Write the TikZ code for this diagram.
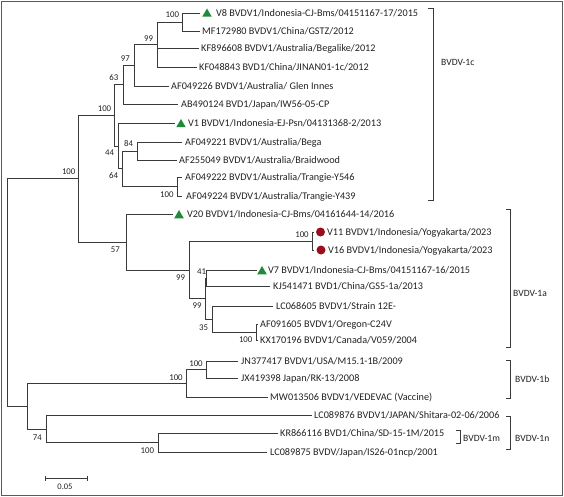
\documentclass[tikz,border=0pt]{standalone}
\usepackage{fontspec}
\setmainfont{Carlito}
\usetikzlibrary{shapes.geometric}
\definecolor{treeline}{HTML}{3A3A3A}
\definecolor{txt}{HTML}{222222}
\definecolor{tgreen}{HTML}{1E8A3A}
\definecolor{dred}{HTML}{9A0E1C}
\definecolor{framec}{HTML}{5A5A5A}
\begin{document}
\begin{tikzpicture}[x=1pt,y=-1pt,
  branch/.style={draw=treeline, line width=0.95pt},
  tip/.style={anchor=base west, inner sep=0pt, yshift=-3.5pt, text=txt, font=\fontsize{10.2}{12}\selectfont},
  bs/.style={anchor=center, inner sep=0pt, text=txt, font=\fontsize{8.8}{10}\selectfont},
  grp/.style={anchor=base west, inner sep=0pt, yshift=-3.5pt, text=txt, font=\fontsize{9.6}{12}\selectfont},
  tri/.style={regular polygon, regular polygon sides=3, fill=tgreen, minimum size=11pt, inner sep=0pt},
  dot/.style={circle, fill=dred, minimum size=9pt, inner sep=0pt},
  brk/.style={draw=treeline, line width=0.95pt}]
\useasboundingbox (0,0) rectangle (564,497);
\draw[framec, line width=1.2pt] (1.5,1.5) rectangle (562.5,495.5);

% internal nodes
\coordinate (root) at (7,292);
\coordinate (G) at (78,178.5);
\coordinate (F) at (114,115);
\coordinate (D) at (123,84.5);
\coordinate (C) at (134,65);
\coordinate (B) at (157,44.5);
\coordinate (A) at (182,22);
\coordinate (N44) at (118,146);
\coordinate (N64) at (122,168.75);
\coordinate (N84) at (137,151);
\coordinate (T) at (177,186.5);
\coordinate (H) at (126,242);
\coordinate (I) at (189,270);
\coordinate (U) at (312,241);
\coordinate (K) at (205,298.5);
\coordinate (J) at (206,278);
\coordinate (L) at (212,319);
\coordinate (M) at (256,332);
\coordinate (N) at (27,406);
\coordinate (P) at (186,383);
\coordinate (Q) at (206,369.5);
\coordinate (O) at (46,429);
\coordinate (R) at (158,442.5);

% tip ends
\coordinate (e1) at (200,13);
\coordinate (e2) at (200,31);
\coordinate (e3) at (199,48);
\coordinate (e4) at (197,67);
\coordinate (e5) at (169,86);
\coordinate (e6) at (178,104);
\coordinate (e7) at (175,123);
\coordinate (e8) at (182,142);
\coordinate (e9) at (177,160);
\coordinate (e10) at (182,177);
\coordinate (e11) at (182,196);
\coordinate (e12) at (173,214);
\coordinate (e13) at (314,232);
\coordinate (e14) at (314,250);
\coordinate (e15) at (257,270);
\coordinate (e16) at (270,286);
\coordinate (e17) at (273,306);
\coordinate (e18) at (258,324);
\coordinate (e19) at (258,340);
\coordinate (e20) at (238,361);
\coordinate (e21) at (238,378);
\coordinate (e22) at (268,397);
\coordinate (e23) at (312,415);
\coordinate (e24) at (278,433);
\coordinate (e25) at (267,452);

% branches
\draw[branch] (root) |- (G);
\draw[branch] (root) |- (N);
\draw[branch] (G) |- (F);
\draw[branch] (G) |- (H);
\draw[branch] (F) |- (D);
\draw[branch] (F) |- (N44);
\draw[branch] (D) |- (C);
\draw[branch] (D) |- (e6);
\draw[branch] (C) |- (B);
\draw[branch] (C) |- (e5);
\draw[branch] (B) |- (A);
\draw[branch] (B) |- (e3);
\draw[branch] (B) |- (e4);
\draw[branch] (A) |- (e1);
\draw[branch] (A) |- (e2);
\draw[branch] (N44) |- (e7);
\draw[branch] (N44) |- (N64);
\draw[branch] (N64) |- (N84);
\draw[branch] (N64) |- (T);
\draw[branch] (N84) |- (e8);
\draw[branch] (N84) |- (e9);
\draw[branch] (T) |- (e10);
\draw[branch] (T) |- (e11);
\draw[branch] (H) |- (e12);
\draw[branch] (H) |- (I);
\draw[branch] (I) |- (U);
\draw[branch] (I) |- (K);
\draw[branch] (U) |- (e13);
\draw[branch] (U) |- (e14);
\draw[branch] (K) |- (J);
\draw[branch] (K) |- (L);
\draw[branch] (J) |- (e15);
\draw[branch] (J) |- (e16);
\draw[branch] (L) |- (e17);
\draw[branch] (L) |- (M);
\draw[branch] (M) |- (e18);
\draw[branch] (M) |- (e19);
\draw[branch] (N) |- (P);
\draw[branch] (N) |- (O);
\draw[branch] (P) |- (Q);
\draw[branch] (P) |- (e22);
\draw[branch] (Q) |- (e20);
\draw[branch] (Q) |- (e21);
\draw[branch] (O) |- (e23);
\draw[branch] (O) |- (R);
\draw[branch] (R) |- (e24);
\draw[branch] (R) |- (e25);

% markers
\node[tri] (m1) at (207,14) {};
\node[tri] (m7) at (181,124.5) {};
\node[tri] (m12) at (179,215.5) {};
\node[tri] (m15) at (262,271.5) {};
\node[dot] (m13) at (320.5,232) {};
\node[dot] (m14) at (321,250) {};

% tip labels
\node[tip] (l1) at (216,13) {V8 BVDV1/Indonesia-CJ-Bms/04151167-17/2015};
\node[tip] (l2) at (202,31) {MF172980 BVDV1/China/GSTZ/2012};
\node[tip] (l3) at (201,48) {KF896608 BVDV1/Australia/Begalike/2012};
\node[tip] (l4) at (199,67) {KF048843 BVD1/China/JINAN01-1c/2012};
\node[tip] (l5) at (171,86) {AF049226 BVDV1/Australia/ Glen Innes};
\node[tip] (l6) at (181,104) {AB490124 BVD1/Japan/IW56-05-CP};
\node[tip] (l7) at (188,123) {V1 BVDV1/Indonesia-EJ-Psn/04131368-2/2013};
\node[tip] (l8) at (185,142) {AF049221 BVDV1/Australia/Bega};
\node[tip] (l9) at (179,160) {AF255049 BVDV1/Australia/Braidwood};
\node[tip] (l10) at (185,177) {AF049222 BVDV1/Australia/Trangie-Y546};
\node[tip] (l11) at (186,196) {AF049224 BVDV1/Australia/Trangie-Y439};
\node[tip] (l12) at (187,214) {V20 BVDV1/Indonesia-CJ-Bms/04161644-14/2016};
\node[tip] (l13) at (327,232) {V11 BVDV1/Indonesia/Yogyakarta/2023};
\node[tip] (l14) at (328,250) {V16 BVDV1/Indonesia/Yogyakarta/2023};
\node[tip] (l15) at (268,270) {V7 BVDV1/Indonesia-CJ-Bms/04151167-16/2015};
\node[tip] (l16) at (273,286) {KJ541471 BVD1/China/GS5-1a/2013};
\node[tip] (l17) at (276,306) {LC068605 BVDV1/Strain 12E-};
\node[tip] (l18) at (260,324) {AF091605 BVDV1/Oregon-C24V};
\node[tip] (l19) at (260,340) {KX170196 BVDV1/Canada/V059/2004};
\node[tip] (l20) at (241,361) {JN377417 BVDV1/USA/M15.1-1B/2009};
\node[tip] (l21) at (241,378) {JX419398 Japan/RK-13/2008};
\node[tip] (l22) at (270,397) {MW013506 BVDV1/VEDEVAC (Vaccine)};
\node[tip] (l23) at (314,415) {LC089876 BVDV1/JAPAN/Shitara-02-06/2006};
\node[tip] (l24) at (280,433) {KR866116 BVD1/China/SD-15-1M/2015};
\node[tip] (l25) at (270,452) {LC089875 BVDV/Japan/IS26-01ncp/2001};

% bootstrap values
\node[bs] (bA) at (172.3,15) {100};
\node[bs] (bB) at (148.7,38.3) {99};
\node[bs] (bC) at (125.3,58.3) {97};
\node[bs] (bD) at (113.8,77.8) {63};
\node[bs] (bF) at (104.5,108.3) {100};
\node[bs] (bG) at (68.7,171.7) {100};
\node[bs] (b84) at (128.7,143.3) {84};
\node[bs] (b44) at (109.7,152.3) {44};
\node[bs] (b64) at (113.7,175.3) {64};
\node[bs] (bT) at (166.8,194.7) {100};
\node[bs] (bH) at (115.3,250) {57};
\node[bs] (bU) at (302,235) {100};
\node[bs] (bJ) at (201.7,271.7) {41};
\node[bs] (bI) at (180.7,277.7) {99};
\node[bs] (bK) at (197,306) {99};
\node[bs] (bL) at (203.7,327.3) {35};
\node[bs] (bM) at (245.7,340) {100};
\node[bs] (bQ) at (196,363.3) {100};
\node[bs] (bP) at (176,377.3) {100};
\node[bs] (bO) at (37.3,437.3) {74};
\node[bs] (bR) at (147.3,450.7) {100};

% clade brackets
\draw[brk] (428,8) -- (433,8) -- (433,200) -- (428,200);
\draw[brk] (506,209) -- (510,209) -- (510,347) -- (506,347);
\draw[brk] (506,360) -- (510,360) -- (510,398) -- (506,398);
\draw[brk] (506,416) -- (510,416) -- (510,449) -- (506,449);
\draw[brk] (456,430) -- (460,430) -- (460,443) -- (456,443);
\node[grp] (g1c) at (441,62) {BVDV-1c};
\node[grp] (g1a) at (513,293) {BVDV-1a};
\node[grp] (g1b) at (515,379) {BVDV-1b};
\node[grp] (g1n) at (515,438) {BVDV-1n};
\node[grp] (g1m) at (463,438) {BVDV-1m};

% scale bar
\coordinate (s1) at (45,478);
\coordinate (s2) at (87,478);
\draw[branch] (s1) -- (s2);
\draw[branch] ([yshift=2.5pt]s1) -- ([yshift=-2.5pt]s1);
\draw[branch] ([yshift=2.5pt]s2) -- ([yshift=-2.5pt]s2);
\node[bs, font=\fontsize{8.5}{10}\selectfont] (sl) at (65,487) {0.05};
\end{tikzpicture}
\end{document}
